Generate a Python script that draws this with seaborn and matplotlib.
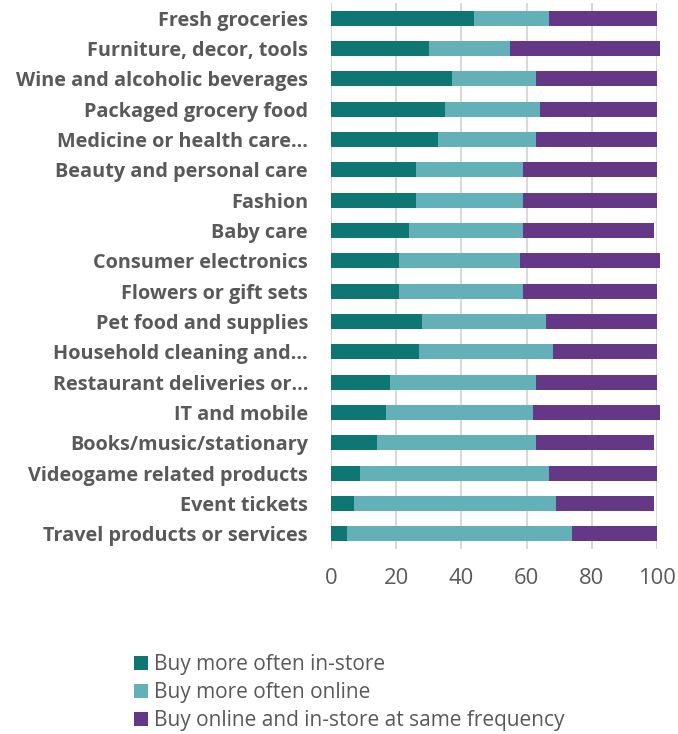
import matplotlib
matplotlib.use("Agg")
import matplotlib.pyplot as plt
import seaborn as sns
import pandas as pd
import numpy as np
from matplotlib.patches import Patch

categories = [
    "Fresh groceries",
    "Furniture, decor, tools",
    "Wine and alcoholic beverages",
    "Packaged grocery food",
    "Medicine or health care…",
    "Beauty and personal care",
    "Fashion",
    "Baby care",
    "Consumer electronics",
    "Flowers or gift sets",
    "Pet food and supplies",
    "Household cleaning and…",
    "Restaurant deliveries or…",
    "IT and mobile",
    "Books/music/stationary",
    "Videogame related products",
    "Event tickets",
    "Travel products or services",
]
in_store = [44, 30, 37, 35, 33, 26, 26, 24, 21, 21, 28, 27, 18, 17, 14, 9, 7, 5]
online = [23, 25, 26, 29, 30, 33, 33, 35, 37, 38, 38, 41, 45, 45, 49, 58, 62, 69]
same_freq = [33, 46, 37, 36, 37, 41, 41, 40, 43, 41, 34, 32, 37, 39, 36, 33, 30, 26]

series_names = ["Buy more often in-store", "Buy more often online",
                "Buy online and in-store at same frequency"]
colors = ["#0E7774", "#63B0B8", "#643886"]

df = pd.DataFrame({"category": categories, "in_store": in_store,
                   "online": online, "same": same_freq})
df["c1"] = df["in_store"]
df["c2"] = df["in_store"] + df["online"]
df["c3"] = df["c2"] + df["same"]

sns.set_theme(style="white")
plt.rcParams["font.family"] = ["Open Sans", "DejaVu Sans"]

fig = plt.figure(figsize=(6.78, 7.34), dpi=100)
ax = fig.add_axes([0.488, 0.252, 0.481, 0.744])

for col, c in zip(["c3", "c2", "c1"], [colors[2], colors[1], colors[0]]):
    sns.barplot(data=df, x=col, y="category", order=categories, color=c,
                width=0.5, saturation=1, ax=ax, zorder=3, linewidth=0)
for p in ax.patches:
    p.set_clip_on(False)

ax.set_xlim(0, 100)
ax.set_ylim(17.5, -0.5)
ax.set_xticks([0, 20, 40, 60, 80, 100])
ax.xaxis.grid(True, color="#D9D9D9", linewidth=1.5, zorder=0)
ax.yaxis.grid(False)
for s in ax.spines.values():
    s.set_visible(False)
ax.set_xlabel("")
ax.set_ylabel("")
ax.tick_params(axis="x", colors="#595959", labelsize=15.8, length=0, pad=14)
ax.tick_params(axis="y", colors="#595959", length=0, pad=16.5)
for lab in ax.get_yticklabels():
    lab.set_fontweight("bold")
    lab.set_fontsize(14.3)

handles = [Patch(facecolor=c, edgecolor="none") for c in colors]
leg = fig.legend(handles, series_names, loc="upper left",
                 bbox_to_anchor=(0.185, 0.12), frameon=False,
                 fontsize=15, handlelength=0.67, handleheight=0.67,
                 handletextpad=0.3, labelspacing=0.34, borderaxespad=0)
for t in leg.get_texts():
    t.set_color("#595959")

fig.savefig("out.png", dpi=100)
